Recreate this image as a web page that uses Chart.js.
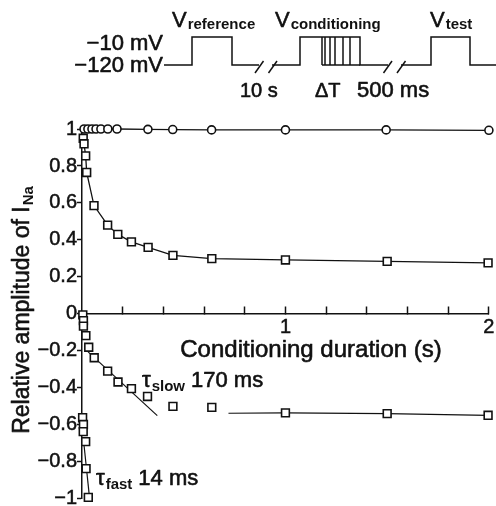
<!DOCTYPE html>
<html><head><meta charset="utf-8">
<script src="https://cdn.jsdelivr.net/npm/chart.js@4.4.1/dist/chart.umd.min.js"></script>
<style>html,body{margin:0;padding:0;background:#fff}canvas{display:block}</style>
</head><body>
<canvas id="c" width="496" height="506"></canvas>
<script>
// ---- data ----
const circleDurations = [0.01, 0.029, 0.049, 0.069, 0.093, 0.127, 0.172, 0.324, 0.446, 0.637, 1.0, 1.495, 2.0];
const circleAmplitudes = [1.0, 1.0, 1.0, 1.0, 1.0, 1.0, 1.0, 0.998, 0.997, 0.995, 0.995, 0.995, 0.993];

const squareDurations = [0.006, 0.01, 0.018, 0.023, 0.059, 0.126, 0.176, 0.243, 0.325, 0.447, 0.638, 1.0, 1.5, 1.996];
const squareAmplitudes = [0.95, 0.92, 0.855, 0.765, 0.586, 0.48, 0.43, 0.39, 0.36, 0.317, 0.299, 0.292, 0.284, 0.276];

const slowDurations = [0.004, 0.007, 0.007, 0.019, 0.033, 0.06, 0.126, 0.177, 0.243, 0.322, 0.447, 0.638, 1.0, 1.5, 1.996];
const slowValues = [-0.005, -0.036, -0.066, -0.117, -0.18, -0.237, -0.309, -0.368, -0.404, -0.446, -0.5, -0.505, -0.535, -0.539, -0.548];

const fastDurations = [0.003, 0.007, 0.006, 0.018, 0.02, 0.031];
const fastValues = [-0.561, -0.598, -0.636, -0.69, -0.836, -0.992];

const slowFitDurations = [0.03, 0.37];
const slowFitValues = [-0.205, -0.55];
const fastFitDurations = [0.006, 0.036];
const fastFitValues = [-0.668, -0.983];
const plateauDurations = [0.72, 1.0, 1.5, 1.996];
const plateauValues = [-0.537, -0.535, -0.539, -0.548];

const xTickValues = [0.2, 0.4, 0.6, 0.8, 1.0, 1.2, 1.4, 1.6, 1.8, 2.0];
const xTickLabels = ['', '', '', '', '1', '', '', '', '', '2'];
const yTickValues = [1, 0.8, 0.6, 0.4, 0.2, 0, -0.2, -0.4, -0.6, -0.8, -1];
const yTickLabels = ['1', '0.8', '0.6', '0.4', '0.2', '0', '\u22120.2', '\u22120.4', '\u22120.6', '\u22120.8', '\u22121'];

const pts = (xs, ys) => xs.map((x, i) => ({x, y: ys[i]}));
const INK = '#111';
const FONT = '"Liberation Sans", Arial, sans-serif';

const annotations = {
  id: 'annotations',
  afterDraw(chart) {
    const ctx = chart.ctx;
    ctx.save();
    ctx.strokeStyle = INK; ctx.fillStyle = INK; ctx.lineWidth = 1.5;
    ctx.lineJoin = 'miter'; ctx.lineCap = 'butt';
    const lo = 65, hi = 37;
    const path = (p) => { ctx.beginPath(); ctx.moveTo(p[0][0], p[0][1]); for (let i = 1; i < p.length; i++) ctx.lineTo(p[i][0], p[i][1]); ctx.stroke(); };
    // protocol
    path([[164, lo], [192, lo], [192, hi], [232, hi], [232, lo], [259, lo]]);
    path([[272, lo], [300, lo], [300, hi], [360, hi], [360, lo], [388, lo]]);
    path([[401, lo], [431, lo], [431, hi], [470, hi], [470, lo], [496, lo]]);
    path([[322, lo], [360, lo]]);
    [322, 325, 330, 335, 343, 350].forEach(x => path([[x, lo], [x, hi]]));
    path([[255, 73], [263.5, 61]]); path([[268.5, 73], [277, 61]]);
    path([[383.5, 73], [392, 61]]); path([[397, 73], [405.5, 61]]);
    ctx.textBaseline = 'alphabetic';
    ctx.lineWidth = 0.6; ctx.lineJoin = 'round';
    const txt = (s, x, y) => { ctx.fillText(s, x, y); ctx.strokeText(s, x, y); };
    ctx.font = '22px ' + FONT; ctx.textAlign = 'right';
    txt('\u221210 mV', 163, 50);
    txt('\u2212120 mV', 163, 72);
    ctx.textAlign = 'left';
    const vsub = (x, sub) => {
      ctx.font = '22px ' + FONT; txt('V', x, 27);
      const w = ctx.measureText('V').width;
      ctx.font = 'bold 15px ' + FONT; ctx.fillText(sub, x + w + 1, 29);
    };
    vsub(172, 'reference'); vsub(275, 'conditioning'); vsub(430, 'test');
    ctx.font = '20px ' + FONT;
    txt('10 s', 240, 97);
    txt('\u0394T', 315, 97);
    ctx.font = '22px ' + FONT;
    txt('500 ms', 357, 97);
    // tau labels
    const tau = (x, y, sub, label) => {
      ctx.font = '22px ' + FONT; txt('\u03c4', x, y);
      const w = ctx.measureText('\u03c4').width;
      ctx.font = 'bold 15px ' + FONT; ctx.fillText(sub, x + w + 1, y + 4);
      const w2 = ctx.measureText(sub).width;
      ctx.font = '22px ' + FONT; txt(label, x + w + w2 + 7, y);
    };
    tau(142, 387, 'slow', '170 ms');
    tau(96, 485, 'fast', '14 ms');
    // x title
    ctx.font = '24px ' + FONT; ctx.textAlign = 'center';
    txt('Conditioning duration (s)', 311, 357);
    // y title
    ctx.translate(21, 310); ctx.rotate(-Math.PI / 2);
    ctx.font = '23px ' + FONT;
    const main = 'Relative amplitude of I';
    const mw = ctx.measureText(main).width;
    ctx.font = 'bold 15px ' + FONT;
    const sw = ctx.measureText('Na').width;
    const start = -(mw + sw + 1) / 2;
    ctx.textAlign = 'left';
    ctx.font = '23px ' + FONT; txt(main, start, 8);
    ctx.font = 'bold 15px ' + FONT; ctx.fillText('Na', start + mw + 1, 12);
    ctx.restore();
  }
};

const sq = { pointStyle: 'rect', pointRadius: 5.5, pointBackgroundColor: '#fff', pointBorderColor: INK, pointBorderWidth: 1.6, clip: false };

new Chart(document.getElementById('c'), {
  type: 'scatter',
  data: {
    datasets: [
      { data: pts(circleDurations, circleAmplitudes), showLine: true, borderColor: INK, borderWidth: 1.3,
        pointStyle: 'circle', pointRadius: 4, pointBackgroundColor: '#fff', pointBorderColor: INK, pointBorderWidth: 1.6, clip: false },
      Object.assign({ data: pts(squareDurations, squareAmplitudes), showLine: true, borderColor: INK, borderWidth: 1.3 }, sq),
      Object.assign({ data: pts(slowDurations, slowValues), showLine: false }, sq),
      Object.assign({ data: pts(fastDurations, fastValues), showLine: false }, sq),
      { data: pts(slowFitDurations, slowFitValues), showLine: true, borderColor: INK, borderWidth: 1.2, pointRadius: 0, clip: false },
      { data: pts(fastFitDurations, fastFitValues), showLine: true, borderColor: INK, borderWidth: 1.2, pointRadius: 0, clip: false },
      { data: pts(plateauDurations, plateauValues), showLine: true, borderColor: INK, borderWidth: 1.2, pointRadius: 0, clip: false }
    ]
  },
  options: {
    responsive: false, animation: false, devicePixelRatio: 1,
    layout: { padding: { left: 0, right: 6, top: 129, bottom: 6 } },
    plugins: { legend: { display: false }, tooltip: { enabled: false } },
    scales: {
      x: {
        type: 'linear', min: 0, max: 2, position: { y: 0 },
        afterBuildTicks: s => { s.ticks = xTickValues.map(v => ({ value: v })); },
        afterFit: s => { s.paddingLeft = 0; s.paddingRight = 0; },
        ticks: { autoSkip: false, maxRotation: 0, padding: 10, color: INK, font: { family: FONT, size: 20 },
          textStrokeColor: INK, textStrokeWidth: 0.5, callback: (v, i) => xTickLabels[i] },
        grid: { drawOnChartArea: false, drawTicks: true, tickLength: -8, tickWidth: 1.5, color: INK },
        border: { display: true, color: INK, width: 1.5 }
      },
      y: {
        type: 'linear', min: -1, max: 1,
        afterBuildTicks: s => { s.ticks = yTickValues.map(v => ({ value: v })); },
        afterFit: s => { s.width = 82; s.paddingTop = 0; s.paddingBottom = 0; },
        ticks: { autoSkip: false, padding: 0, color: INK, font: { family: FONT, size: 20 },
          textStrokeColor: INK, textStrokeWidth: 0.5, callback: (v, i) => yTickLabels[i] },
        grid: { drawOnChartArea: false, drawTicks: true, tickLength: 5, tickWidth: 1.5, color: INK },
        border: { display: true, color: INK, width: 1.5 }
      }
    }
  },
  plugins: [annotations]
});
</script>
</body></html>
